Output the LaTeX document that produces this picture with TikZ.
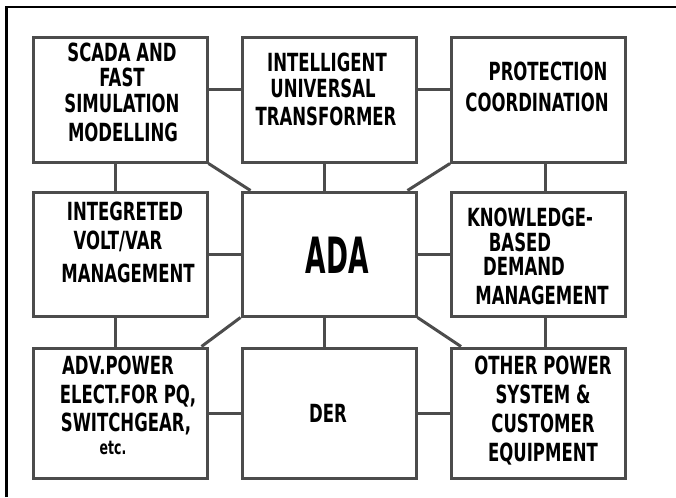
\documentclass[tikz,border=0pt]{standalone}
\usepackage{fontspec}
\newfontfamily\lblfont{DejaVu Sans}[FakeStretch=0.66]
\newfontfamily\adafont{DejaVu Sans}[FakeStretch=0.53]
\begin{document}
\begin{tikzpicture}[x=1pt,y=-1pt,
  box/.style={draw=black!70, line width=3pt, minimum width=174pt, minimum height=124pt, inner sep=0pt},
  tallbox/.style={box, minimum height=130pt},
  conn/.style={draw=black!70, line width=3pt},
  lbl/.style={font=\lblfont\bfseries\fontsize{25}{25}\selectfont, inner sep=0pt, text height=18pt, text depth=0pt, anchor=center},
  small/.style={font=\lblfont\bfseries\fontsize{19}{19}\selectfont, inner sep=0pt, text height=10pt, text depth=0pt, anchor=center},
  big/.style={font=\adafont\bfseries\fontsize{50}{50}\selectfont, inner sep=0pt, text height=36pt, text depth=0pt, anchor=center}]
\useasboundingbox (0,0) rectangle (676,497);
\fill[white] (0,0) rectangle (676,497);
% outer frame (top and left)
\coordinate (fbl) at (6.5,497);
\coordinate (ftl) at (6.5,7);
\coordinate (ftr) at (676,7);
\draw[line width=2.5pt, black] (fbl) -- (ftl) -- (ftr);
% boxes
\node[box] (scada) at (120,100) {};
\node[box] (iut) at (329,100) {};
\node[box] (prot) at (538.5,100) {};
\node[box] (volt) at (120,254) {};
\node[box] (ada) at (329,254) {};
\node[box] (kbdm) at (538.5,254) {};
\node[tallbox] (adv) at (120,413) {};
\node[tallbox] (der) at (329,413) {};
\node[tallbox] (oth) at (538.5,413) {};
% horizontal connectors
\draw[conn] ([yshift=10pt]scada.east) -- ([yshift=10pt]iut.west);
\draw[conn] ([yshift=10pt]iut.east) -- ([yshift=10pt]prot.west);
\draw[conn] (volt.east) -- (ada.west);
\draw[conn] (ada.east) -- (kbdm.west);
\draw[conn] (adv.east) -- (der.west);
\draw[conn] (der.east) -- (oth.west);
% vertical connectors
\draw[conn] ([xshift=-5pt]scada.south) -- ([xshift=-5pt]volt.north);
\draw[conn] ([xshift=-5pt]iut.south) -- ([xshift=-5pt]ada.north);
\draw[conn] ([xshift=6.5pt]prot.south) -- ([xshift=6.5pt]kbdm.north);
\draw[conn] ([xshift=-5pt]volt.south) -- ([xshift=-5pt]adv.north);
\draw[conn] ([xshift=-5pt]ada.south) -- ([xshift=-5pt]der.north);
\draw[conn] ([xshift=6.5pt]kbdm.south) -- ([xshift=6.5pt]oth.north);
% diagonal connectors
\draw[conn] (scada.south east) -- ([xshift=10pt]ada.north west);
\draw[conn] (prot.south west) -- ([xshift=-10pt]ada.north east);
\draw[conn] (ada.south west) -- ([xshift=-7pt]adv.north east);
\draw[conn] (ada.south east) -- ([xshift=11pt]oth.north west);
% texts
\node[lbl] (s1) at (122,53) {SCADA AND};
\node[lbl] (s2) at (122,78) {FAST};
\node[lbl] (s3) at (122,104) {SIMULATION};
\node[lbl] (s4) at (123,133) {MODELLING};
\node[lbl] (i1) at (327,63) {INTELLIGENT};
\node[lbl] (i2) at (323,89) {UNIVERSAL};
\node[lbl] (i3) at (326,117) {TRANSFORMER};
\node[lbl] (p1) at (548,72) {PROTECTION};
\node[lbl] (p2) at (537,103) {COORDINATION};
\node[lbl] (v1) at (125,211) {INTEGRETED};
\node[lbl] (v2) at (118,240) {VOLT/VAR};
\node[lbl] (v3) at (128,273) {MANAGEMENT};
\node[big] (a1) at (337,255) {ADA};
\node[lbl] (k1) at (530,217) {KNOWLEDGE-};
\node[lbl] (k2) at (520,242) {BASED};
\node[lbl] (k3) at (524,266) {DEMAND};
\node[lbl] (k4) at (542,295) {MANAGEMENT};
\node[lbl] (d1) at (118,365) {ADV.POWER};
\node[lbl] (d2) at (128,394) {ELECT.FOR PQ,};
\node[lbl] (d3) at (126,422) {SWITCHGEAR,};
\node[small] (d4) at (113,449) {etc.};
\node[lbl] (e1) at (328,413) {DER};
\node[lbl] (o1) at (543,365) {OTHER POWER};
\node[lbl] (o2) at (543,394) {SYSTEM \&};
\node[lbl] (o3) at (543,423) {CUSTOMER};
\node[lbl] (o4) at (543,452) {EQUIPMENT};
\end{tikzpicture}
\end{document}
